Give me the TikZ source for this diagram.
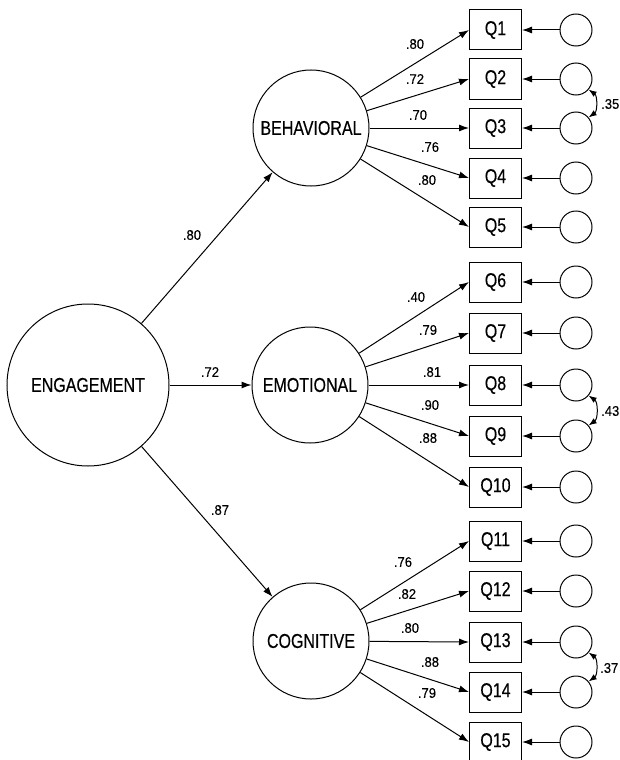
\documentclass[tikz,border=0pt]{standalone}
\usepackage{fontspec}
\newfontfamily\mainlbl{Liberation Sans}[FakeStretch=0.8,FakeBold=0.35]
\newfontfamily\numlbl{Liberation Sans}[FakeStretch=0.93,FakeBold=0.3]
\usetikzlibrary{arrows.meta}
\begin{document}
\begin{tikzpicture}[x=1pt,y=-1pt,
  every node/.style={inner sep=0pt},
  lat/.style={draw,circle,line width=1pt,font=\mainlbl\fontsize{20}{20}\selectfont},
  obs/.style={draw,rectangle,minimum width=52pt,minimum height=40pt,line width=1pt,font=\mainlbl\fontsize{20}{20}\selectfont},
  err/.style={draw,circle,minimum size=32pt,line width=1pt},
  lbl/.style={font=\numlbl\fontsize{14}{14}\selectfont},
  arr/.style={line width=1pt,-{Latex[length=10pt,width=7pt]}},
  cov/.style={line width=1pt,{Latex[length=8pt,width=6pt]}-{Latex[length=8pt,width=6pt]}}
]
\useasboundingbox (0,0) rectangle (620,760);

\node[lat,minimum size=162pt] (eng) at (88,385) {ENGAGEMENT};
\node[lat,minimum size=116pt] (beh) at (311,128) {BEHAVIORAL};
\node[lat,minimum size=116pt] (emo) at (310,385) {EMOTIONAL};
\node[lat,minimum size=116pt] (cog) at (311,641) {COGNITIVE};

\draw[arr] (eng) -- (beh);
\draw[arr] (eng) -- (emo);
\draw[arr] (eng) -- (cog);
\node[lbl] (s1) at (192,235) {.80};
\node[lbl] (s2) at (210,372) {.72};
\node[lbl] (s3) at (220,510) {.87};

\foreach \i/\y in {1/30,2/79,3/128,4/178,5/227,6/282,7/333,8/385,9/436,10/487,11/541,12/591,13/642,14/692,15/742} {
  \node[obs] (q\i) at (495.5,\y) {Q\i};
  \node[err] (e\i) at (576,\y) {};
  \draw[arr] (e\i) -- (q\i);
}

\foreach \i/\lx/\ly/\v in {1/415/44/.80,2/415/79/.72,3/418/115/.70,4/430/147/.76,5/427/180/.80} {
  \draw[arr] (beh) -- (q\i.west);
  \node[lbl] (l\i) at (\lx,\ly) {\v};
}
\foreach \i/\lx/\ly/\v in {6/416/297/.40,7/428/330/.79,8/432/372/.81,9/430/405/.90,10/428/438/.88} {
  \draw[arr] (emo) -- (q\i.west);
  \node[lbl] (l\i) at (\lx,\ly) {\v};
}
\foreach \i/\lx/\ly/\v in {11/403/562/.76,12/407/594/.82,13/410/628/.80,14/430/662/.88,15/427/693/.79} {
  \draw[arr] (cog) -- (q\i.west);
  \node[lbl] (l\i) at (\lx,\ly) {\v};
}

\draw[cov] (e2.-40) to[bend left=55] (e3.40);
\draw[cov] (e8.-40) to[bend left=55] (e9.40);
\draw[cov] (e13.-40) to[bend left=55] (e14.40);
\node[lbl,anchor=west] (c1) at (601,104) {.35};
\node[lbl,anchor=west] (c2) at (601,411) {.43};
\node[lbl,anchor=west] (c3) at (600,668) {.37};
\end{tikzpicture}
\end{document}
